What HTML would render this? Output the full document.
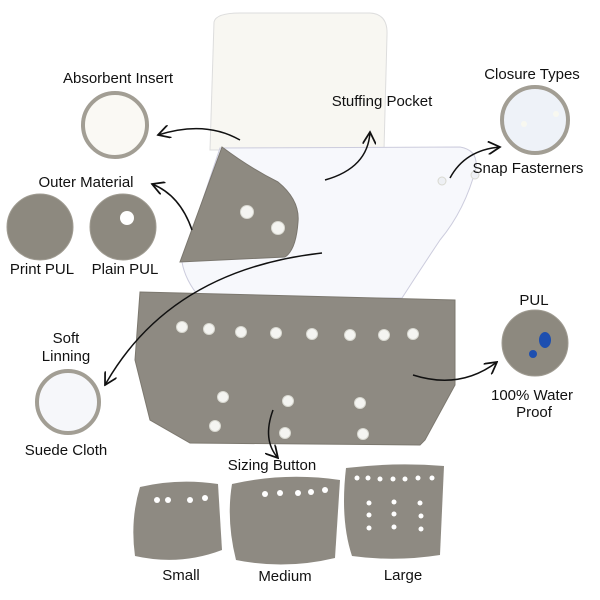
<!DOCTYPE html>
<html><head><meta charset="utf-8"><style>
body{margin:0;background:#fff;width:600px;height:600px;overflow:hidden}
svg{display:block}
text{font-family:"Liberation Sans","DejaVu Sans",sans-serif;font-size:15px;fill:#111;text-anchor:middle}
</style></head><body>
<svg width="600" height="600" viewBox="0 0 600 600" xmlns="http://www.w3.org/2000/svg">
<defs>
<marker id="a" viewBox="0 0 10 10" refX="9" refY="5" markerWidth="9" markerHeight="9" orient="auto"><path d="M0,0 L9,5 L0,10" fill="none" stroke="#111" stroke-width="1.3"/></marker>
</defs>
<path d="M214,22 Q216,13 240,13 L370,13 Q388,14 387,35 L384,150 L210,150 Z" fill="#f8f7f2" stroke="#ddd" stroke-width="1"/>
<path d="M220,148 L460,147 Q478,150 476,168 Q465,210 440,240 Q420,270 402,298 L200,298 Q185,280 182,262 Z" fill="#f7f8fc" stroke="#ccd" stroke-width="1"/>
<path d="M222,147 Q250,168 278,182 Q300,200 298,222 Q296,250 285,257 L180,262 Z" fill="#8e8a81" stroke="#7a766e" stroke-width="1"/>
<path d="M140,292 L455,300 L455,385 L425,440 L420,445 L190,443 L150,420 L135,360 Z" fill="#8e8a82" stroke="#7c786f" stroke-width="1"/>
<g fill="#f4f4f1" stroke="#d8d8d0" stroke-width="1">
<circle cx="247" cy="212" r="6.5"/><circle cx="278" cy="228" r="6.5"/>
<circle cx="442" cy="181" r="4" fill="#eef0f4"/><circle cx="475" cy="175" r="4" fill="#eef0f4"/>
<circle cx="182" cy="327" r="5.5"/><circle cx="209" cy="329" r="5.5"/><circle cx="241" cy="332" r="5.5"/><circle cx="276" cy="333" r="5.5"/><circle cx="312" cy="334" r="5.5"/><circle cx="350" cy="335" r="5.5"/><circle cx="384" cy="335" r="5.5"/><circle cx="413" cy="334" r="5.5"/>
<circle cx="223" cy="397" r="5.5"/><circle cx="288" cy="401" r="5.5"/><circle cx="360" cy="403" r="5.5"/>
<circle cx="215" cy="426" r="5.5"/><circle cx="285" cy="433" r="5.5"/><circle cx="363" cy="434" r="5.5"/>
</g>
<circle cx="115" cy="125" r="32" fill="#faf9f4" stroke="#a29e94" stroke-width="4"/>
<circle cx="535" cy="120" r="33" fill="#eef2f8" stroke="#a29e94" stroke-width="4"/>
<circle cx="524" cy="124" r="3" fill="#f8f8f0"/><circle cx="556" cy="114" r="3" fill="#f8f8f0"/>
<circle cx="40" cy="227" r="33" fill="#8d897f" stroke="#a09c92" stroke-width="1"/>
<circle cx="123" cy="227" r="33" fill="#8d897f" stroke="#a09c92" stroke-width="1"/>
<circle cx="127" cy="218" r="7" fill="#fff"/>
<circle cx="68" cy="402" r="31" fill="#f6f7fa" stroke="#a29e94" stroke-width="4"/>
<circle cx="535" cy="343" r="33" fill="#8d897f" stroke="#a09c92" stroke-width="1"/>
<ellipse cx="545" cy="340" rx="6" ry="8" fill="#1d4fb0"/><circle cx="533" cy="354" r="4" fill="#1d4fb0"/>
<path d="M140,487 Q178,478 218,484 L222,550 Q180,566 135,556 Q130,520 140,487 Z" fill="#8e8a82"/>
<g fill="#fff"><circle cx="157" cy="500" r="3"/><circle cx="168" cy="500" r="3"/><circle cx="190" cy="500" r="3"/><circle cx="205" cy="498" r="3"/></g>
<path d="M232,484 Q285,472 340,480 L335,558 Q285,570 236,560 Q226,520 232,484 Z" fill="#8e8a82"/>
<g fill="#fff"><circle cx="265" cy="494" r="3"/><circle cx="280" cy="493" r="3"/><circle cx="298" cy="493" r="3"/><circle cx="311" cy="492" r="3"/><circle cx="325" cy="490" r="3"/></g>
<path d="M346,468 Q395,462 444,466 L440,555 Q395,562 352,556 Q340,520 346,468 Z" fill="#8e8a82"/>
<g fill="#fff"><circle cx="357" cy="478" r="2.5"/><circle cx="368" cy="478" r="2.5"/><circle cx="380" cy="479" r="2.5"/><circle cx="393" cy="479" r="2.5"/><circle cx="405" cy="479" r="2.5"/><circle cx="418" cy="478" r="2.5"/><circle cx="432" cy="478" r="2.5"/>
<circle cx="369" cy="503" r="2.5"/><circle cx="369" cy="515" r="2.5"/><circle cx="369" cy="528" r="2.5"/><circle cx="394" cy="502" r="2.5"/><circle cx="394" cy="514" r="2.5"/><circle cx="394" cy="527" r="2.5"/><circle cx="420" cy="503" r="2.5"/><circle cx="421" cy="516" r="2.5"/><circle cx="421" cy="529" r="2.5"/></g>
<g fill="none" stroke="#111" stroke-width="1.5" marker-end="url(#a)">
<path d="M240,140 Q205,120 158,135"/>
<path d="M325,180 Q368,168 370,132"/>
<path d="M450,178 Q465,150 500,147"/>
<path d="M192,230 Q180,195 152,184"/>
<path d="M322,253 Q170,270 105,385"/>
<path d="M413,375 Q460,390 497,362"/>
<path d="M273,410 Q262,440 278,458"/>
</g>
<text x="118" y="83">Absorbent Insert</text>
<text x="382" y="106">Stuffing Pocket</text>
<text x="532" y="79">Closure Types</text>
<text x="528" y="173">Snap Fasterners</text>
<text x="86" y="187">Outer Material</text>
<text x="42" y="274">Print PUL</text>
<text x="125" y="274">Plain PUL</text>
<text x="66" y="343">Soft</text>
<text x="66" y="361">Linning</text>
<text x="66" y="455">Suede Cloth</text>
<text x="534" y="305">PUL</text>
<text x="532" y="400">100% Water</text>
<text x="534" y="417">Proof</text>
<text x="272" y="470">Sizing Button</text>
<text x="181" y="580">Small</text>
<text x="285" y="581">Medium</text>
<text x="403" y="580">Large</text>
</svg>
</body></html>
